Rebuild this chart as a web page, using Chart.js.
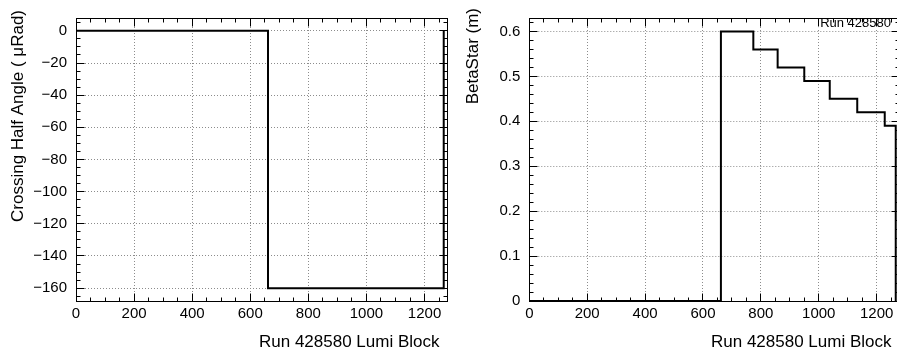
<!DOCTYPE html>
<html>
<head>
<meta charset="utf-8">
<script src="https://cdn.jsdelivr.net/npm/chart.js@4.4.1/dist/chart.umd.min.js"></script>
<style>
  html, body { margin: 0; padding: 0; background: #fff; overflow: hidden; }
  #wrap { position: relative; width: 897px; height: 359px; overflow: hidden; background: #fff; }
  canvas { position: absolute; top: 0; }
  #angleCanvas { left: 0; }
  #betaCanvas { left: 448px; }
</style>
</head>
<body>
<div id="wrap">
  <canvas id="angleCanvas" width="448" height="359"></canvas>
  <canvas id="betaCanvas" width="453" height="359"></canvas>
</div>
<script>
// Run and lumi-block axis
const runNumber = '428580';
const lumiRange = [0, 1279];
const lumiTicks = [0, 200, 400, 600, 800, 1000, 1200];
const lumiTickLabels = ['0', '200', '400', '600', '800', '1000', '1200'];

// Crossing half angle per lumi-block interval (bin edges + value in each interval)
const angleEdges = [0, 661, 1266];
const angleValues = [0, -160];
const angleRange = [-168, 8];
const angleTicks = [0, -20, -40, -60, -80, -100, -120, -140, -160];
const angleTickLabels = ['0', '\u221220', '\u221240', '\u221260', '\u221280', '\u2212100', '\u2212120', '\u2212140', '\u2212160'];

// Beta* per lumi-block interval
const betaEdges = [0, 662, 774, 858, 950, 1038, 1133, 1228, 1266];
const betaValues = [0, 0.6, 0.56, 0.52, 0.49, 0.45, 0.42, 0.39];
const betaRange = [0, 0.63];
const betaTicks = [0, 0.1, 0.2, 0.3, 0.4, 0.5, 0.6];
const betaTickLabels = ['0', '0.1', '0.2', '0.3', '0.4', '0.5', '0.6'];

const FONT = "'Liberation Sans', Arial, Helvetica, sans-serif";

// Histogram outline: each edge carries its interval's value, closed back to zero at the end
function histPoints(edges, values) {
  const pts = values.map((v, i) => ({ x: edges[i], y: v }));
  const last = edges[edges.length - 1];
  pts.push({ x: last, y: values[values.length - 1] });
  pts.push({ x: last, y: 0 });
  return pts;
}

function minorValues(min, max, step) {
  const out = [];
  const k0 = Math.ceil(min / step - 1e-9), k1 = Math.floor(max / step + 1e-9);
  for (let k = k0; k <= k1; k++) out.push(+(k * step).toFixed(6));
  return out;
}

// Frame, dotted grid, inward tick marks on all four sides, and titles
const frameDeco = {
  id: 'frameDeco',
  beforeDatasetsDraw(chart) {
    const { ctx, chartArea: a, scales: { x, y } } = chart;
    ctx.save();
    ctx.beginPath();
    ctx.rect(a.left, a.top, a.right - a.left, a.bottom - a.top);
    ctx.clip();
    ctx.strokeStyle = '#8c8c8c';
    ctx.lineWidth = 1;
    ctx.setLineDash([1, 2]);
    ctx.beginPath();
    x.ticks.forEach(t => {
      const px = Math.floor(x.getPixelForValue(t.value)) + 0.5;
      ctx.moveTo(px, a.top); ctx.lineTo(px, a.bottom);
    });
    y.ticks.forEach(t => {
      const py = Math.floor(y.getPixelForValue(t.value)) + 0.5;
      ctx.moveTo(a.left, py); ctx.lineTo(a.right, py);
    });
    ctx.stroke();
    ctx.restore();
  },
  afterDatasetsDraw(chart, args, opts) {
    const { ctx, chartArea: a, scales: { x, y } } = chart;
    const L = Math.floor(a.left) + 0.5, R = Math.floor(a.right) + 0.5;
    const T = Math.floor(a.top) + 0.5, B = Math.floor(a.bottom) + 0.5;
    ctx.save();

    if (opts.runLabel) {
      ctx.font = '13px ' + FONT;
      const w = ctx.measureText(opts.runLabel).width;
      const tx = a.right - 8.5;
      ctx.fillStyle = '#fff';
      ctx.fillRect(tx - w - 2, 14, a.right - (tx - w - 2), 15);
      ctx.fillStyle = '#000';
      ctx.textAlign = 'right';
      ctx.textBaseline = 'alphabetic';
      ctx.fillText(opts.runLabel, tx, 26.5);
    }

    ctx.strokeStyle = '#000';
    ctx.lineWidth = 1;
    ctx.beginPath();
    const majX = x.ticks.map(t => t.value);
    minorValues(x.min, x.max, opts.xMinor).forEach(v => {
      const len = majX.some(m => Math.abs(m - v) < 1e-6) ? 8 : 4;
      const px = Math.floor(x.getPixelForValue(v)) + 0.5;
      ctx.moveTo(px, B); ctx.lineTo(px, B - len);
      ctx.moveTo(px, T); ctx.lineTo(px, T + len);
    });
    const majY = y.ticks.map(t => t.value);
    minorValues(y.min, y.max, opts.yMinor).forEach(v => {
      const len = majY.some(m => Math.abs(m - v) < 1e-6) ? 8 : 4;
      const py = Math.floor(y.getPixelForValue(v)) + 0.5;
      ctx.moveTo(L, py); ctx.lineTo(L + len, py);
      ctx.moveTo(R, py); ctx.lineTo(R - len, py);
    });
    ctx.stroke();

    ctx.strokeRect(L, T, R - L, B - T);
    ctx.restore();
  },
  afterDraw(chart, args, opts) {
    const { ctx, chartArea: a } = chart;
    ctx.save();
    ctx.fillStyle = '#000';
    ctx.font = '17px ' + FONT;
    ctx.textAlign = 'right';
    ctx.textBaseline = 'alphabetic';
    ctx.fillText(opts.xTitle, a.right - 8, 347);

    ctx.translate(opts.yTitleX, opts.yTitleTop);
    ctx.rotate(-Math.PI / 2);
    ctx.textAlign = 'right';
    ctx.textBaseline = 'middle';
    ctx.fillText(opts.yTitle, 0, 0);
    ctx.restore();
  }
};

function makeChart(canvasId, edges, values, yRange, yTicks, yLabels, cfg) {
  return new Chart(document.getElementById(canvasId), {
    type: 'line',
    data: {
      datasets: [{
        data: histPoints(edges, values),
        stepped: 'before',
        borderColor: '#000',
        borderWidth: 2,
        pointRadius: 0,
        fill: false,
        tension: 0
      }]
    },
    options: {
      responsive: false,
      animation: false,
      events: [],
      layout: { padding: { top: 4, right: cfg.padRight, left: 0, bottom: 0 } },
      plugins: {
        legend: { display: false },
        tooltip: { enabled: false },
        frameDeco: {
          xTitle: 'Run ' + runNumber + ' Lumi Block',
          yTitle: cfg.yTitle,
          yTitleX: cfg.yTitleX,
          yTitleTop: cfg.yTitleTop,
          xMinor: 50,
          yMinor: cfg.yMinor,
          runLabel: cfg.runLabel
        }
      },
      scales: {
        x: {
          type: 'linear',
          min: lumiRange[0],
          max: lumiRange[1],
          grid: { display: false, drawTicks: false, tickLength: 0 },
          border: { display: false },
          afterBuildTicks: s => { s.ticks = lumiTicks.map(v => ({ value: v })); },
          afterFit: s => { s.height = 58; },
          ticks: {
            autoSkip: false,
            maxRotation: 0,
            padding: 4,
            color: '#000',
            font: { family: FONT, size: 15 },
            callback: (v, i) => lumiTickLabels[i]
          }
        },
        y: {
          type: 'linear',
          min: yRange[0],
          max: yRange[1],
          grid: { display: false, drawTicks: false, tickLength: 0 },
          border: { display: false },
          afterBuildTicks: s => { s.ticks = yTicks.map(v => ({ value: v })); },
          afterFit: s => { s.width = cfg.axisWidth; },
          ticks: {
            autoSkip: false,
            padding: 9,
            color: '#000',
            font: { family: FONT, size: 15 },
            callback: (v, i) => yLabels[i]
          }
        }
      }
    },
    plugins: [frameDeco]
  });
}

makeChart('angleCanvas', angleEdges, angleValues, angleRange, angleTicks, angleTickLabels, {
  padRight: 0.5, axisWidth: 76, yMinor: 5,
  yTitle: 'Crossing Half Angle ( \u03BCRad)', yTitleX: 18.5, yTitleTop: 10
});

makeChart('betaCanvas', betaEdges, betaValues, betaRange, betaTicks, betaTickLabels, {
  padRight: 1.5, axisWidth: 81.3, yMinor: 0.02,
  yTitle: 'BetaStar (m)', yTitleX: 25, yTitleTop: 8,
  runLabel: 'Run ' + runNumber
});
</script>
</body>
</html>
